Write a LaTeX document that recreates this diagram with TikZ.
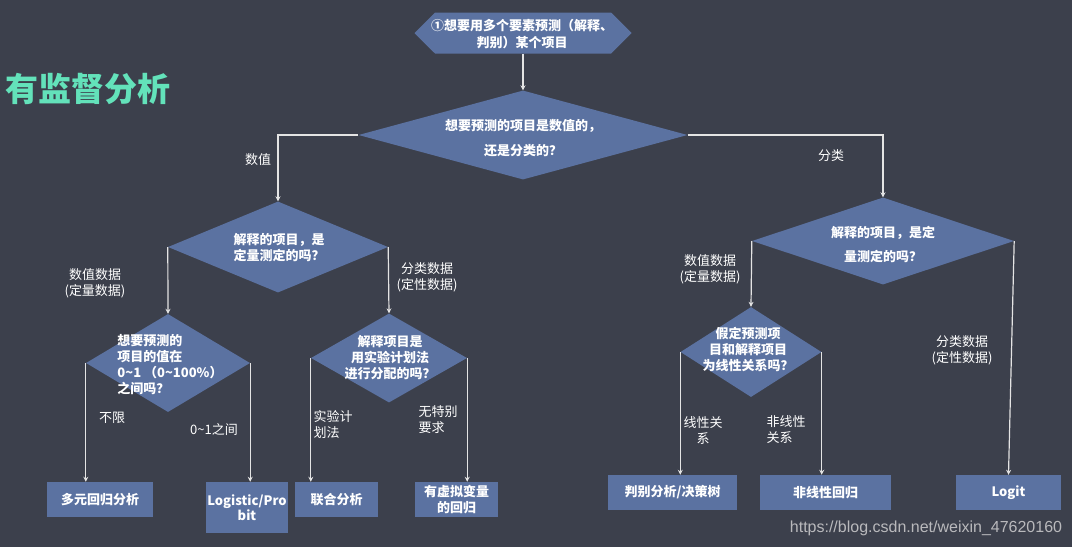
\documentclass[tikz,border=0pt]{standalone}
\usepackage{fontspec}
\setmainfont{Noto Sans CJK SC}
\newfontfamily\marca{Liberation Sans}
\usetikzlibrary{shapes.geometric,shapes.symbols,arrows.meta}
\definecolor{fondo}{RGB}{60,64,76}
\definecolor{azul}{RGB}{91,114,161}
\definecolor{verde}{RGB}{99,226,186}
\definecolor{linea}{RGB}{228,228,228}
\definecolor{gris}{RGB}{185,185,188}

\begin{document}
\begin{tikzpicture}[x=1pt, y=-1pt,
    rombo/.style={diamond, fill=azul, inner sep=0pt},
    caja/.style={rectangle, fill=azul, inner sep=0pt, text=white, align=center,
      font=\bfseries\fontsize{13}{15.5}\selectfont},
    pregunta/.style={text=white, inner sep=0pt, align=center,
      font=\bfseries\fontsize{13}{16}\selectfont},
    etiqueta/.style={text=white, inner sep=0pt, align=center,
      font=\fontsize{13}{16}\selectfont},
    flecha/.style={draw=linea, line width=1.2pt, -{Stealth[length=5pt,width=5pt]}}]
  % el fondo
  \fill[fondo] (0,0) rectangle (1072,547);
  \useasboundingbox (0,0) rectangle (1072,547);
  % el título
  \node[text=verde, inner sep=0pt, font=\bfseries\fontsize{33}{33}\selectfont] (titulo) at (88,89) {有监督分析};
  % el inicio y las preguntas
  \node[signal, signal to=west and east, fill=azul, inner sep=0pt,
        minimum width=217pt, minimum height=41pt] (inicio) at (523,33) {};
  \node[pregunta, font=\bfseries\fontsize{13}{17}\selectfont] (iniciot) at (522,34) {①想要用多个要素预测（解释、\\判别）某个项目};
  \node[rombo, minimum width=329pt, minimum height=89pt] (q1) at (523,135) {};
  \node[pregunta, font=\bfseries\fontsize{13}{25}\selectfont] (q1t) at (523,138) {想要预测的项目是数值的，\\还是分类的？};
  \node[rombo, minimum width=220pt, minimum height=91pt] (q2) at (278,247) {};
  \node[pregunta] (q2t) at (279,248) {解释的项目，是\\定量测定的吗？};
  \node[rombo, minimum width=262pt, minimum height=87pt] (q3) at (883,241) {};
  \node[pregunta, font=\bfseries\fontsize{13}{24}\selectfont] (q3t) at (883,244) {解释的项目，是定\\量测定的吗？};
  \node[rombo, minimum width=164pt, minimum height=98pt] (q4) at (168,363) {};
  \node[pregunta, align=left] (q4t) at (170,365) {想要预测的\\项目的值在\\0\textasciitilde1 （0\textasciitilde100\%）\\之间吗？};
  \node[rombo, minimum width=156pt, minimum height=89pt] (q5) at (389,358) {};
  \node[pregunta] (q5t) at (390,358) {解释项目是\\用实验计划法\\进行分配的吗？};
  \node[rombo, minimum width=141pt, minimum height=90pt] (q6) at (751,352) {};
  \node[pregunta] (q6t) at (748,349) {假定预测项\\目和解释项目\\为线性关系吗？};
  % las cajas de abajo
  \node[caja, minimum width=106pt, minimum height=35pt] (b1) at (100,499.5) {多元回归分析};
  \node[caja, minimum width=82pt, minimum height=51pt] (b2) at (247,507.5) {Logistic/Pro\\bit};
  \node[caja, minimum width=83pt, minimum height=35pt] (b3) at (336.5,499.5) {联合分析};
  \node[caja, minimum width=83pt, minimum height=35pt] (b4) at (456.5,499.5) {有虚拟变量\\的回归};
  \node[caja, minimum width=129pt, minimum height=35pt] (b5) at (672.5,492.5) {判别分析/决策树};
  \node[caja, minimum width=131pt, minimum height=35pt] (b6) at (825.5,492.5) {非线性回归};
  \node[caja, minimum width=105pt, minimum height=35pt] (b7) at (1008.5,492.5) {Logit};
  % las flechas
  \draw[flecha] (inicio) -- (q1);
  \draw[flecha] (q1.west) -| (q2.north);
  \draw[flecha] (q1.east) -| (q3.north);
  \draw[flecha] (q2.west) -- (q4.north);
  \draw[flecha] (q2.east) -- (q5.north);
  \draw[flecha] (q3.west) -- (q6.north);
  \draw[flecha] (q3.east) -- (b7.north);
  \foreach \a/\b in {q4.west/b1, q4.east/b2, q5.west/b3, q5.east/b4, q6.west/b5, q6.east/b6} {
    \draw[flecha] (\a) -- (\a |- \b.north);
  }
  % los rótulos de las flechas
  \node[etiqueta] (l1) at (258,160) {数值};
  \node[etiqueta] (l2) at (831,156) {分类};
  \node[etiqueta] (l3) at (95,283) {数值数据\\(定量数据)};
  \node[etiqueta] (l4) at (427,277) {分类数据\\(定性数据)};
  \node[etiqueta] (l5) at (112,418) {不限};
  \node[etiqueta] (l6) at (214,430) {0\textasciitilde1之间};
  \node[etiqueta, align=left] (l7) at (333,425) {实验计\\划法};
  \node[etiqueta, align=left] (l8) at (438,420) {无特别\\要求};
  \node[etiqueta] (l9) at (710,269) {数值数据\\(定量数据)};
  \node[etiqueta] (l10) at (962,350) {分类数据\\(定性数据)};
  \node[etiqueta] (l11) at (703,430) {线性关\\系};
  \node[etiqueta, align=left] (l12) at (786,430) {非线性\\关系};
  % la marca de agua
  \node[text=gris, inner sep=0pt, font=\marca\fontsize{16}{16}\selectfont] (marca) at (926,528) {https://blog.csdn.net/weixin\_47620160};
\end{tikzpicture}
\end{document}
